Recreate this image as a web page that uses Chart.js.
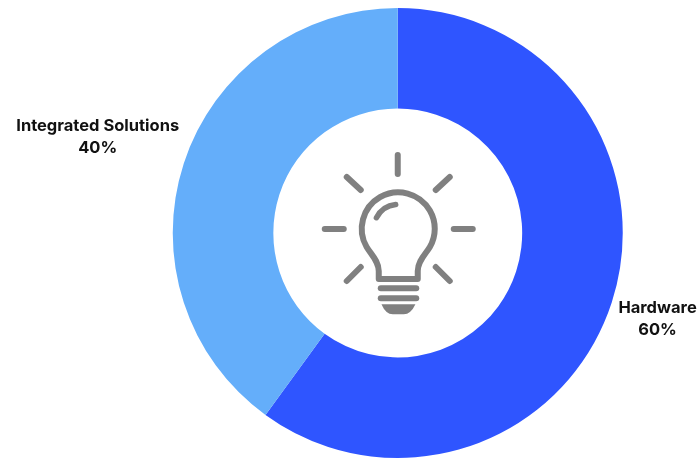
<!DOCTYPE html>
<html>
<head>
<meta charset="utf-8">
<title>Revenue split</title>
<script src="https://cdn.jsdelivr.net/npm/chart.js@4"></script>
<style>
  html, body { margin: 0; padding: 0; background: #fff; }
  #wrap { width: 700px; height: 460px; }
</style>
</head>
<body>
<div id="wrap"><canvas id="chart" width="700" height="460"></canvas></div>
<script>
const categories = ['Hardware', 'Integrated Solutions']
const shares = [60, 40]
const sliceColors = ['#2f55ff', '#64aefa']

const LABEL_FONT = '700 16.5px Inter'
const LABEL_LINE = 22

// Slice name and percentage, pushed out along the slice's middle angle
const sliceLabels = {
  id: 'sliceLabels',
  afterDatasetsDraw(chart) {
    const { ctx } = chart
    ctx.save()
    ctx.font = LABEL_FONT
    ctx.fillStyle = '#111'
    ctx.textAlign = 'center'
    ctx.textBaseline = 'middle'
    chart.getDatasetMeta(0).data.forEach((arc, i) => {
      const mid = (arc.startAngle + arc.endAngle) / 2
      const r = arc.outerRadius + ctx.measureText(categories[i]).width / 2 + 9
      const x = arc.x + Math.cos(mid) * r
      const y = arc.y + Math.sin(mid) * r + 1.5
      ctx.fillText(categories[i], x, y - LABEL_LINE / 2)
      ctx.fillText(shares[i] + '%', x, y + LABEL_LINE / 2)
    })
    ctx.restore()
  },
}

// Light bulb icon in the hole, coordinates relative to the doughnut centre
const bulbIcon = {
  id: 'bulbIcon',
  afterDatasetsDraw(chart) {
    const { ctx } = chart
    const arc = chart.getDatasetMeta(0).data[0]
    const rad = (d) => (d * Math.PI) / 180
    ctx.save()
    ctx.translate(arc.x, arc.y)
    ctx.strokeStyle = '#808080'
    ctx.fillStyle = '#808080'
    ctx.lineCap = 'round'
    ctx.lineJoin = 'round'
    ctx.lineWidth = 6

    // rays
    const rays = [
      [0, -78, 0, -59], [-51, -56, -37, -43], [52, -56, 38, -43],
      [-73, -4, -54, -4], [56, -4, 75, -4],
      [-37, 34, -51, 48], [38, 34, 52, 48],
    ]
    rays.forEach(([x1, y1, x2, y2]) => {
      ctx.beginPath()
      ctx.moveTo(x1, y1)
      ctx.lineTo(x2, y2)
      ctx.stroke()
    })

    // glass
    ctx.beginPath()
    ctx.moveTo(-19, 46)
    ctx.lineTo(-19, 38)
    ctx.bezierCurveTo(-19, 28, -27, 21, -31.1, 14)
    ctx.arc(0.5, -4.2, 36.5, rad(150), rad(390))
    ctx.bezierCurveTo(28, 21, 20, 28, 20, 38)
    ctx.lineTo(20, 46)
    ctx.closePath()
    ctx.stroke()

    // highlight
    ctx.lineWidth = 5.5
    ctx.beginPath()
    ctx.arc(0.5, -4.2, 24.5, rad(207), rad(264))
    ctx.stroke()

    // screw base
    ctx.lineWidth = 6
    ;[55.3, 65.3].forEach((y) => {
      ctx.beginPath()
      ctx.moveTo(-17, y)
      ctx.lineTo(18.5, y)
      ctx.stroke()
    })
    ctx.beginPath()
    ctx.moveTo(-16.3, 71.3)
    ctx.lineTo(17.7, 71.3)
    ctx.quadraticCurveTo(13, 81.3, 6, 81.3)
    ctx.lineTo(-5, 81.3)
    ctx.quadraticCurveTo(-12, 81.3, -16.3, 71.3)
    ctx.closePath()
    ctx.fill()
    ctx.restore()
  },
}

new Chart(document.getElementById('chart'), {
  type: 'doughnut',
  data: {
    labels: categories,
    datasets: [{
      data: shares,
      backgroundColor: sliceColors,
      borderWidth: 0,
    }],
  },
  options: {
    responsive: false,
    animation: false,
    cutout: '55.3%',
    layout: { padding: { left: 172.5, right: 77, top: 8, bottom: 2 } },
    plugins: {
      legend: { display: false },
      tooltip: { enabled: false },
    },
  },
  plugins: [sliceLabels, bulbIcon],
})
</script>
</body>
</html>
